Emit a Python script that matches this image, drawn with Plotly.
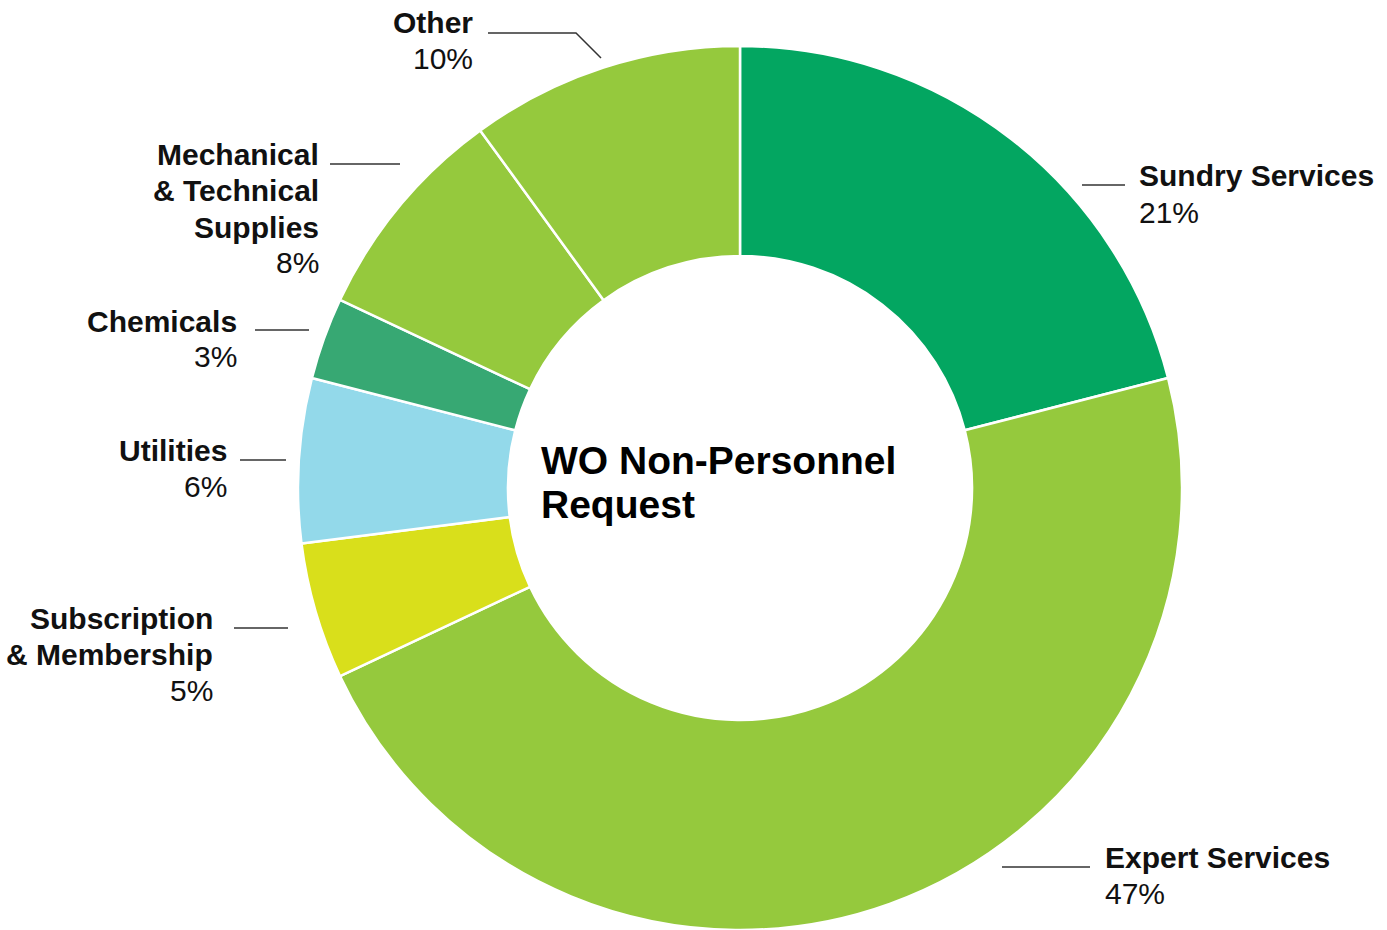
import plotly.graph_objects as go

# Non-personnel request breakdown (share of total, %)
categories = [
    "Sundry Services",
    "Expert Services",
    "Subscription & Membership",
    "Utilities",
    "Chemicals",
    "Mechanical & Technical Supplies",
    "Other",
]
shares = [21, 47, 5, 6, 3, 8, 10]
colors = ["#03A661", "#95C93D", "#D9DF1B", "#93D9EA", "#37A873", "#95C93D", "#95C93D"]

# Label text as it is broken over lines next to each slice
label_lines = {
    "Sundry Services": ["Sundry Services"],
    "Expert Services": ["Expert Services"],
    "Subscription & Membership": ["Subscription", "& Membership"],
    "Utilities": ["Utilities"],
    "Chemicals": ["Chemicals"],
    "Mechanical & Technical Supplies": ["Mechanical", "& Technical", "Supplies"],
    "Other": ["Other"],
}

W, H = 1387, 930
FONT = "Liberation Sans, Arial, Helvetica, sans-serif"
LABEL_SIZE = 30
LINE_PITCH = 36

def px(x):
    return x / W

def py(y):
    return 1 - y / H

cx, cy, R = 740, 488, 442

fig = go.Figure(
    go.Pie(
        labels=categories,
        values=shares,
        marker=dict(colors=colors, line=dict(color="white", width=2.5)),
        hole=0.525,
        sort=False,
        direction="clockwise",
        rotation=0,
        textinfo="none",
        hoverinfo="label+percent",
        showlegend=False,
        domain=dict(x=[px(cx - R), px(cx + R)], y=[py(cy + R), py(cy - R)]),
    )
)

# Label placement: (anchor x, first line centre y, side) and leader line points
placement = {
    "Sundry Services": (1138, 176, "left", [(1082, 185), (1125, 185)]),
    "Expert Services": (1104, 857, "left", [(1002, 867), (1090, 867)]),
    "Subscription & Membership": (214, 618, "right", [(234, 628), (288, 628)]),
    "Utilities": (228, 450, "right", [(240, 460), (286, 460)]),
    "Chemicals": (238, 321, "right", [(255, 330), (309, 330)]),
    "Mechanical & Technical Supplies": (320, 155, "right", [(330, 164), (400, 164)]),
    "Other": (474, 22, "right", [(488, 33), (576, 33), (601, 58)]),
}

annotations = []
shapes = []
for cat, val in zip(categories, shares):
    x, y0, side, pts = placement[cat]
    lines = [f"<b>{ln}</b>" for ln in label_lines[cat]] + [f"{val}%"]
    for i, ln in enumerate(lines):
        annotations.append(dict(
            x=px(x), y=py(y0 + i * LINE_PITCH), xref="paper", yref="paper",
            xanchor=side, yanchor="middle", align=side,
            text=ln, showarrow=False, borderpad=0,
            font=dict(family=FONT, size=LABEL_SIZE, color="#111111"),
        ))
    path = "M " + " L ".join(f"{px(a)},{py(b)}" for a, b in pts)
    shapes.append(dict(type="path", path=path, xref="paper", yref="paper",
                       line=dict(color="#333333", width=1.5)))

# Title in the donut hole
for i, ln in enumerate(["WO Non-Personnel", "Request"]):
    annotations.append(dict(
        x=px(540), y=py(460 + i * 45), xref="paper", yref="paper",
        xanchor="left", yanchor="middle", align="left",
        text=f"<b>{ln}</b>", showarrow=False, borderpad=0,
        font=dict(family=FONT, size=39, color="#000000"),
    ))

fig.update_layout(
    width=W, height=H,
    margin=dict(l=0, r=0, t=0, b=0),
    paper_bgcolor="white",
    plot_bgcolor="white",
    annotations=annotations,
    shapes=shapes,
)

fig.write_html("out.html")
